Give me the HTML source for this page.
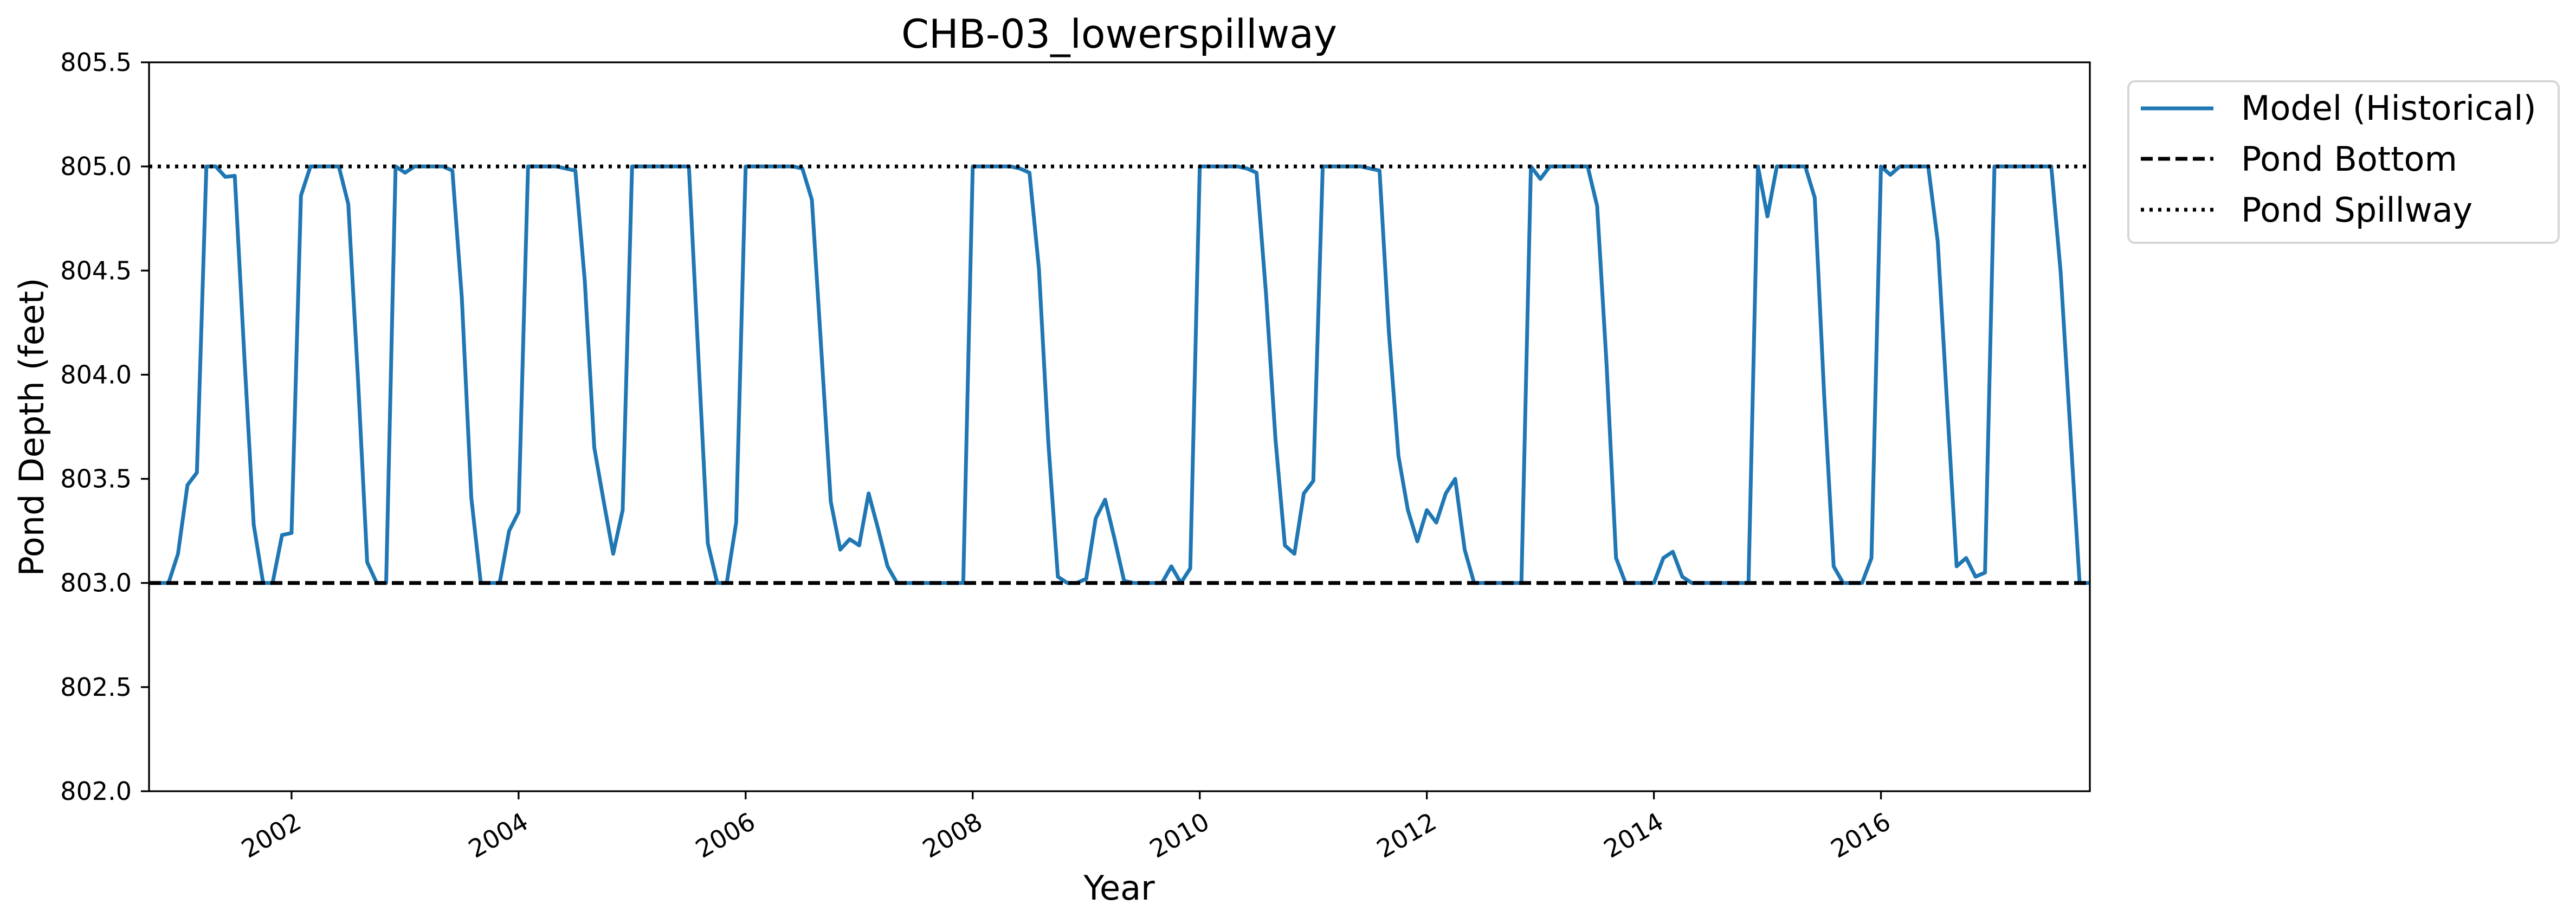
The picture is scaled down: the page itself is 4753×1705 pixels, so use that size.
<!DOCTYPE html>
<html>
<head>
<meta charset="utf-8">
<style>
  html, body { margin: 0; padding: 0; background: #fff; }
  svg { display: block; }
  text { font-family: "DejaVu Sans", "Liberation Sans", sans-serif; fill: #000; }
</style>
</head>
<body>
<svg id="chart" xmlns="http://www.w3.org/2000/svg" width="4753" height="1705" viewBox="0 0 4753 1705">
  <rect x="0" y="0" width="4753" height="1705" fill="#fff"/>
  <text x="2065" y="88" font-size="73" text-anchor="middle">CHB-03_lowerspillway</text>
  <g id="plot"></g>
  <text x="2065" y="1660" font-size="62" text-anchor="middle">Year</text>
  <text transform="translate(80,788) rotate(-90)" font-size="62" text-anchor="middle">Pond Depth (feet)</text>
  <g>
    <rect x="3927" y="150" width="794" height="298" rx="12" fill="#fff" stroke="#d6d6d6" stroke-width="4"/>
    <g>
      <line x1="3950" y1="200" x2="4084" y2="200" stroke="#1f77b4" stroke-width="7"/>
      <text x="4135" y="221" font-size="62">Model (Historical)</text>
    </g>
    <g>
      <line x1="3950" y1="293" x2="4084" y2="293" stroke="#000" stroke-width="7" stroke-dasharray="22,10"/>
      <text x="4135" y="315" font-size="62">Pond Bottom</text>
    </g>
    <g>
      <line x1="3950" y1="387" x2="4084" y2="387" stroke="#000" stroke-width="7" stroke-dasharray="6,10"/>
      <text x="4135" y="409" font-size="62">Pond Spillway</text>
    </g>
  </g>
</svg>
<script>
// ---- data ----
const startYear = 2000;
const startMonth = 10; // October
const depthValues = [
803,803,803,803.14,803.47,803.53,805,805,804.95,804.955,
804.1,803.28,803,803,803.23,803.24,804.86,805,805,805,
805,804.82,804.0,803.1,803,803,805,804.97,805,805,
805,805,804.98,804.37,803.41,803,803,803,803.25,803.34,
805,805,805,805,804.99,804.98,804.45,803.65,803.39,803.14,
803.35,805,805,805,805,805,805,805,804.09,803.19,
803,803,803.29,805,805,805,805,805,805,804.99,
804.84,804.12,803.39,803.16,803.21,803.18,803.43,803.26,803.08,803,
803,803,803,803,803,803,803,805,805,805,
805,805,804.99,804.97,804.51,803.67,803.03,803,803,803.02,
803.31,803.40,803.21,803.01,803,803,803,803,803.08,803,
803.07,805,805,805,805,805,804.99,804.97,804.39,803.69,
803.18,803.14,803.43,803.49,805,805,805,805,805,804.99,
804.98,804.2,803.61,803.35,803.2,803.35,803.29,803.43,803.5,803.16,
803,803,803,803,803,803,805,804.94,805,805,
805,805,805,804.81,804.05,803.12,803,803,803,803,
803.12,803.15,803.03,803,803,803,803,803,803,803,
805,804.76,805,805,805,805,804.85,803.9,803.08,803,
803,803,803.12,805,804.96,805,805,805,805,804.64,
803.85,803.08,803.12,803.03,803.05,805,805,805,805,805,
805,805,804.49,803.74,803,803
];
const pondBottom = [803.0];
const pondSpillway = [805.0];
const yTicks = [802.0, 802.5, 803.0, 803.5, 804.0, 804.5, 805.0, 805.5];
const yTickLabels = ["802.0","802.5","803.0","803.5","804.0","804.5","805.0","805.5"];
const xTicks = [2002, 2004, 2006, 2008, 2010, 2012, 2014, 2016];
const xTickLabels = ["2002","2004","2006","2008","2010","2012","2014","2016"];
const xDomain = [2000.745, 2017.84];
const yDomain = [802.0, 805.5];

// ---- layout ----
const L = 275, R = 3856, T = 115, B = 1460;
const NS = "http://www.w3.org/2000/svg";
const sx = v => L + (v - xDomain[0]) / (xDomain[1] - xDomain[0]) * (R - L);
const sy = v => B - (v - yDomain[0]) / (yDomain[1] - yDomain[0]) * (B - T);
const plot = document.getElementById('plot');
function mk(tag, attrs) {
  const e = document.createElementNS(NS, tag);
  for (const k in attrs) e.setAttribute(k, attrs[k]);
  return e;
}

const defs = mk('defs', {});
const cp = mk('clipPath', {id: 'clip'});
cp.appendChild(mk('rect', {x: L, y: T, width: R - L, height: B - T}));
defs.appendChild(cp);
plot.appendChild(defs);

const pts = depthValues.map((v, k) => {
  const yr = startYear + (startMonth - 1 + k) / 12;
  return sx(yr).toFixed(1) + ',' + sy(v).toFixed(1);
});
const line = mk('polyline', {points: pts.join(' '), fill: 'none', stroke: '#1f77b4', 'stroke-width': 7, 'stroke-linejoin': 'round', 'clip-path': 'url(#clip)'});


plot.appendChild(line);

const bl = mk('line', {x1: L, x2: R, y1: sy(pondBottom[0]), y2: sy(pondBottom[0]), stroke: '#000', 'stroke-width': 7, 'stroke-dasharray': '22,10'});


plot.appendChild(bl);
const spl = mk('line', {x1: L, x2: R, y1: sy(pondSpillway[0]), y2: sy(pondSpillway[0]), stroke: '#000', 'stroke-width': 7, 'stroke-dasharray': '6,10'});


plot.appendChild(spl);

const frame = mk('rect', {x: L, y: T, width: R - L, height: B - T, fill: 'none', stroke: '#000', 'stroke-width': 3.3});


plot.appendChild(frame);

yTicks.forEach((v, i) => {
  const y = sy(v);
  const t = mk('line', {x1: L - 15, x2: L, y1: y, y2: y, stroke: '#000', 'stroke-width': 3.3});
  
  
  plot.appendChild(t);
  const lb = mk('text', {x: L - 32, y: y + 16, 'font-size': 46, 'text-anchor': 'end'});
  lb.textContent = yTickLabels[i];
  
  
  plot.appendChild(lb);
});

xTicks.forEach((v, i) => {
  const x = sx(v);
  const t = mk('line', {x1: x, x2: x, y1: B, y2: B + 15, stroke: '#000', 'stroke-width': 3.3});
  
  
  plot.appendChild(t);
  const lb = mk('text', {'font-size': 46, 'text-anchor': 'end', transform: `translate(${x + 4},${B + 36}) rotate(-30)`});
  lb.setAttribute('dominant-baseline', 'hanging');
  lb.textContent = xTickLabels[i];
  
  
  plot.appendChild(lb);
});
</script>
</body>
</html>
